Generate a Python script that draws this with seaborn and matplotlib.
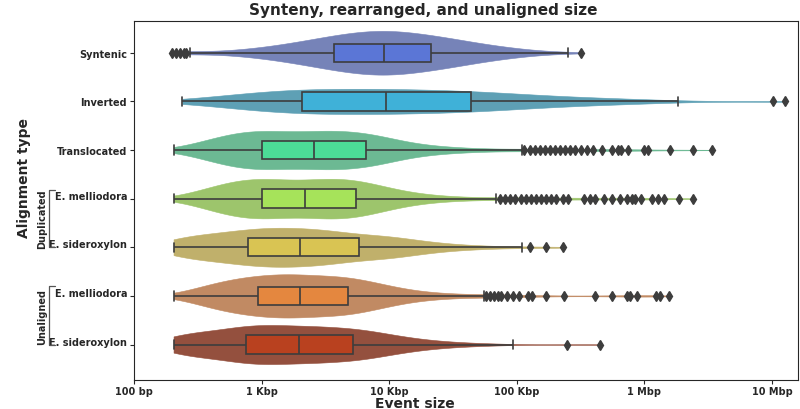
import numpy as np
import pandas as pd
import matplotlib
matplotlib.use("Agg")
import matplotlib.pyplot as plt
import matplotlib.transforms as mtransforms
from matplotlib.ticker import NullLocator
import seaborn as sns

# categories, top to bottom
categories = ["Syntenic", "Inverted", "Translocated",
              "Dup E. melliodora", "Dup E. sideroxylon",
              "Unal E. melliodora", "Unal E. sideroxylon"]
tick_labels = ["Syntenic", "Inverted", "Translocated",
               "E. melliodora", "E. sideroxylon",
               "E. melliodora", "E. sideroxylon"]

box_colors = ["#5b76d6", "#3fb1d8", "#4cdc97", "#a6e35a", "#d9c453", "#e4873f", "#b9411f"]
violin_colors = ["#7683b8", "#5ea0b5", "#6cb993", "#9dc56c", "#c0b06b", "#c18a63", "#94503e"]

xtick_vals = [1e2, 1e3, 1e4, 1e5, 1e6, 1e7]
xtick_labels = ["100 bp", "1 Kbp", "10 Kbp", "100 Kbp", "1 Mbp", "10 Mbp"]

# event sizes, as log10(bp) and how many events sit at each
syn_log = [2.30, 2.33, 2.36, 2.39, 2.41, 2.44, 2.47, 2.57, 2.67, 2.77, 2.87, 2.97,
           3.07, 3.17, 3.27, 3.37, 3.47, 3.57, 3.67, 3.77, 3.87, 3.96, 4.05, 4.14,
           4.23, 4.33, 4.43, 4.53, 4.63, 4.73, 4.83, 4.93, 5.03, 5.13, 5.23, 5.33,
           5.40, 5.50]
syn_n = [1, 1, 1, 1, 1, 1, 1, 1, 2, 3, 5, 6,
         8, 11, 13, 16, 19, 22, 25, 26, 28, 25, 25, 24,
         23, 22, 20, 17, 14, 11, 9, 7, 5, 3, 2, 1,
         1, 1]

inv_log = [2.38, 2.42, 2.52, 2.62, 2.72, 2.82, 2.92, 3.02, 3.12, 3.22, 3.32, 3.42,
           3.52, 3.62, 3.72, 3.82, 3.90, 3.975, 4.06, 4.15, 4.24, 4.34, 4.44, 4.54,
           4.64, 4.74, 4.84, 4.94, 5.04, 5.14, 5.24, 5.34, 5.44, 5.54, 5.64, 5.74,
           5.84, 5.94, 6.04, 6.14, 6.26, 7.01, 7.10]
inv_n = [1, 1, 2, 3, 4, 5, 6, 7, 7, 8, 9, 8,
         8, 8, 8, 8, 6, 7, 7, 7, 7, 8, 7, 7,
         8, 6, 6, 5, 5, 4, 4, 3, 3, 3, 2, 2,
         2, 2, 1, 1, 1, 1, 1]

tra_log = [2.31, 2.4, 2.5, 2.6, 2.7, 2.8, 2.9, 3.0, 3.1, 3.2, 3.3, 3.41,
           3.5, 3.6, 3.7, 3.82, 3.9, 4.0, 4.1, 4.2, 4.3, 4.4, 4.5, 4.6,
           4.7, 4.8, 4.9, 5.04,
           5.06, 5.10, 5.14, 5.18, 5.22, 5.26, 5.30, 5.34, 5.38, 5.42, 5.46, 5.50,
           5.55, 5.60, 5.67, 5.75, 5.79, 5.82, 5.87, 6.00, 6.03, 6.20, 6.38, 6.53]
tra_n = [2, 6, 14, 22, 30, 36, 40, 40, 37, 35, 35, 36,
         38, 40, 40, 36, 30, 22, 16, 12, 9, 7, 6, 4,
         3, 3, 2, 2,
         1, 1, 1, 1, 1, 1, 1, 1, 1, 1, 1, 1,
         1, 1, 1, 1, 1, 1, 1, 1, 1, 1, 1, 1]

mdup_log = [2.31, 2.4, 2.5, 2.6, 2.7, 2.8, 2.9, 3.0, 3.1, 3.2, 3.34, 3.45,
            3.55, 3.64, 3.74, 3.84, 3.94, 4.04, 4.14, 4.24, 4.34, 4.44, 4.54, 4.64,
            4.74, 4.84,
            4.87, 4.91, 4.95, 4.99, 5.03, 5.07, 5.11, 5.15, 5.19, 5.23, 5.27, 5.31,
            5.36, 5.40, 5.53, 5.57, 5.61, 5.68, 5.75, 5.81, 5.86, 5.90, 5.93, 5.97,
            6.06, 6.11, 6.15, 6.27, 6.38]
mdup_n = [2, 6, 14, 24, 32, 38, 42, 42, 40, 40, 45, 40,
          40, 40, 40, 34, 24, 18, 13, 9, 7, 5, 4, 3,
          2, 2,
          1, 1, 1, 1, 1, 1, 1, 1, 1, 1, 1, 1,
          1, 1, 1, 1, 1, 1, 1, 1, 1, 1, 1, 1,
          1, 1, 1, 1, 1]

sdup_log = [2.31, 2.4, 2.5, 2.6, 2.7, 2.8, 2.89, 3.0, 3.1, 3.2, 3.3, 3.4,
            3.5, 3.6, 3.76, 3.9, 4.0, 4.1, 4.2, 4.3, 4.4, 4.5, 4.6, 4.7,
            4.8, 4.9, 5.04, 5.10, 5.23, 5.36]
sdup_n = [17, 13, 15, 17, 18, 19, 24, 25, 25, 25, 24, 22,
          22, 26, 24, 18, 15, 12, 9, 7, 5, 4, 3, 2,
          2, 1, 1, 1, 1, 1]

munal_log = [2.31, 2.4, 2.5, 2.6, 2.7, 2.8, 2.88, 2.97, 3.06, 3.15, 3.23, 3.30,
             3.4, 3.5, 3.59, 3.68, 3.78, 3.88, 3.98, 4.08, 4.18, 4.28, 4.38, 4.48,
             4.58, 4.68, 4.74,
             4.76, 4.79, 4.82, 4.85, 4.88, 4.92, 4.97, 5.02, 5.09, 5.12, 5.23, 5.37,
             5.61, 5.75, 5.86, 5.89, 5.94, 6.09, 6.12, 6.19]
munal_n = [2, 6, 14, 22, 28, 26, 27, 34, 32, 32, 30, 32,
           33, 33, 32, 32, 30, 24, 18, 13, 9, 7, 5, 4,
           3, 2, 1,
           1, 1, 1, 1, 1, 1, 1, 1, 1, 1, 1, 1,
           1, 1, 1, 1, 1, 1, 1, 1]

sunal_log = [2.31, 2.4, 2.5, 2.6, 2.7, 2.8, 2.88, 2.98, 3.08, 3.18, 3.29, 3.39,
             3.49, 3.59, 3.72, 3.83, 3.93, 4.03, 4.13, 4.23, 4.33, 4.43, 4.53, 4.63,
             4.73, 4.85, 4.97, 5.39, 5.65]
sunal_n = [18, 13, 15, 17, 18, 19, 24, 25, 25, 25, 24, 23,
           23, 23, 28, 18, 15, 12, 9, 7, 5, 4, 3, 2,
           2, 1, 1, 1, 1]

series = [syn_log, inv_log, tra_log, mdup_log, sdup_log, munal_log, sunal_log]
counts = [syn_n, inv_n, tra_n, mdup_n, sdup_n, munal_n, sunal_n]

frames = []
for cat, vals, n in zip(categories, series, counts):
    sizes = np.repeat(10.0 ** np.array(vals), n)
    frames.append(pd.DataFrame({"type": cat, "size": sizes}))
df = pd.concat(frames, ignore_index=True)

sns.set_style("ticks")
plt.rcParams["font.family"] = ["DejaVu Sans"]
plt.rcParams["font.weight"] = "bold"
plt.rcParams["axes.labelweight"] = "bold"
plt.rcParams["axes.titleweight"] = "bold"

fig, ax = plt.subplots(figsize=(8, 4.1), dpi=100)
fig.subplots_adjust(left=0.1675, right=0.9975, bottom=0.0707, top=0.946)

sns.violinplot(data=df, x="size", y="type", hue="type", order=categories,
               hue_order=categories, palette=violin_colors, log_scale=True,
               inner=None, cut=0, width=0.9, density_norm="area", common_norm=True,
               saturation=1, linewidth=0.4, legend=False, ax=ax)
for coll in ax.collections:
    coll.set_edgecolor(coll.get_facecolor())

sns.boxplot(data=df, x="size", y="type", hue="type", order=categories,
            hue_order=categories, palette=box_colors, log_scale=True,
            width=0.38, saturation=1, linecolor="#3d3d3d", linewidth=1.2,
            flierprops=dict(marker="d", markerfacecolor="#3d3d3d",
                            markeredgecolor="#3d3d3d", markersize=5),
            legend=False, ax=ax)

ax.set_xlim(100, 1.6e7)
ax.set_ylim(6.73, -0.65)
ax.xaxis.set_minor_locator(NullLocator())
ax.set_xticks(xtick_vals)
ax.set_xticklabels(xtick_labels)
ax.set_yticks(range(len(categories)))
ax.set_yticklabels(tick_labels)
ax.tick_params(labelsize=7, length=3, pad=2)
ax.tick_params(axis="x", pad=1)

# grouped labels sit a little higher
shift = mtransforms.ScaledTranslation(0, 4 / 100, fig.dpi_scale_trans)
for lbl in ax.get_yticklabels()[3:]:
    lbl.set_transform(lbl.get_transform() + shift)

ax.set_title("Synteny, rearranged, and unaligned size", fontsize=11, x=0.4355, pad=5)
ax.set_xlabel("Event size", fontsize=10)
ax.set_ylabel("Alignment type", fontsize=10)
ax.xaxis.set_label_coords(0.4235, -0.045)
ax.yaxis.set_label_coords(-0.155, 0.565)

# brackets for the duplicated / unaligned groups
trans = mtransforms.blended_transform_factory(ax.transAxes, ax.transData)
for y0, y1, ymid, text in [(2.82, 4.0, 3.40, "Duplicated"), (4.8, 6.01, 5.42, "Unaligned")]:
    ax.plot([-0.119, -0.128, -0.128, -0.119], [y0, y0, y1, y1], transform=trans,
            clip_on=False, color="#555555", lw=0.9)
    ax.text(-0.138, ymid, text, rotation=90, transform=trans, ha="center",
            va="center", fontsize=7)

plt.savefig("out.png", dpi=100)
